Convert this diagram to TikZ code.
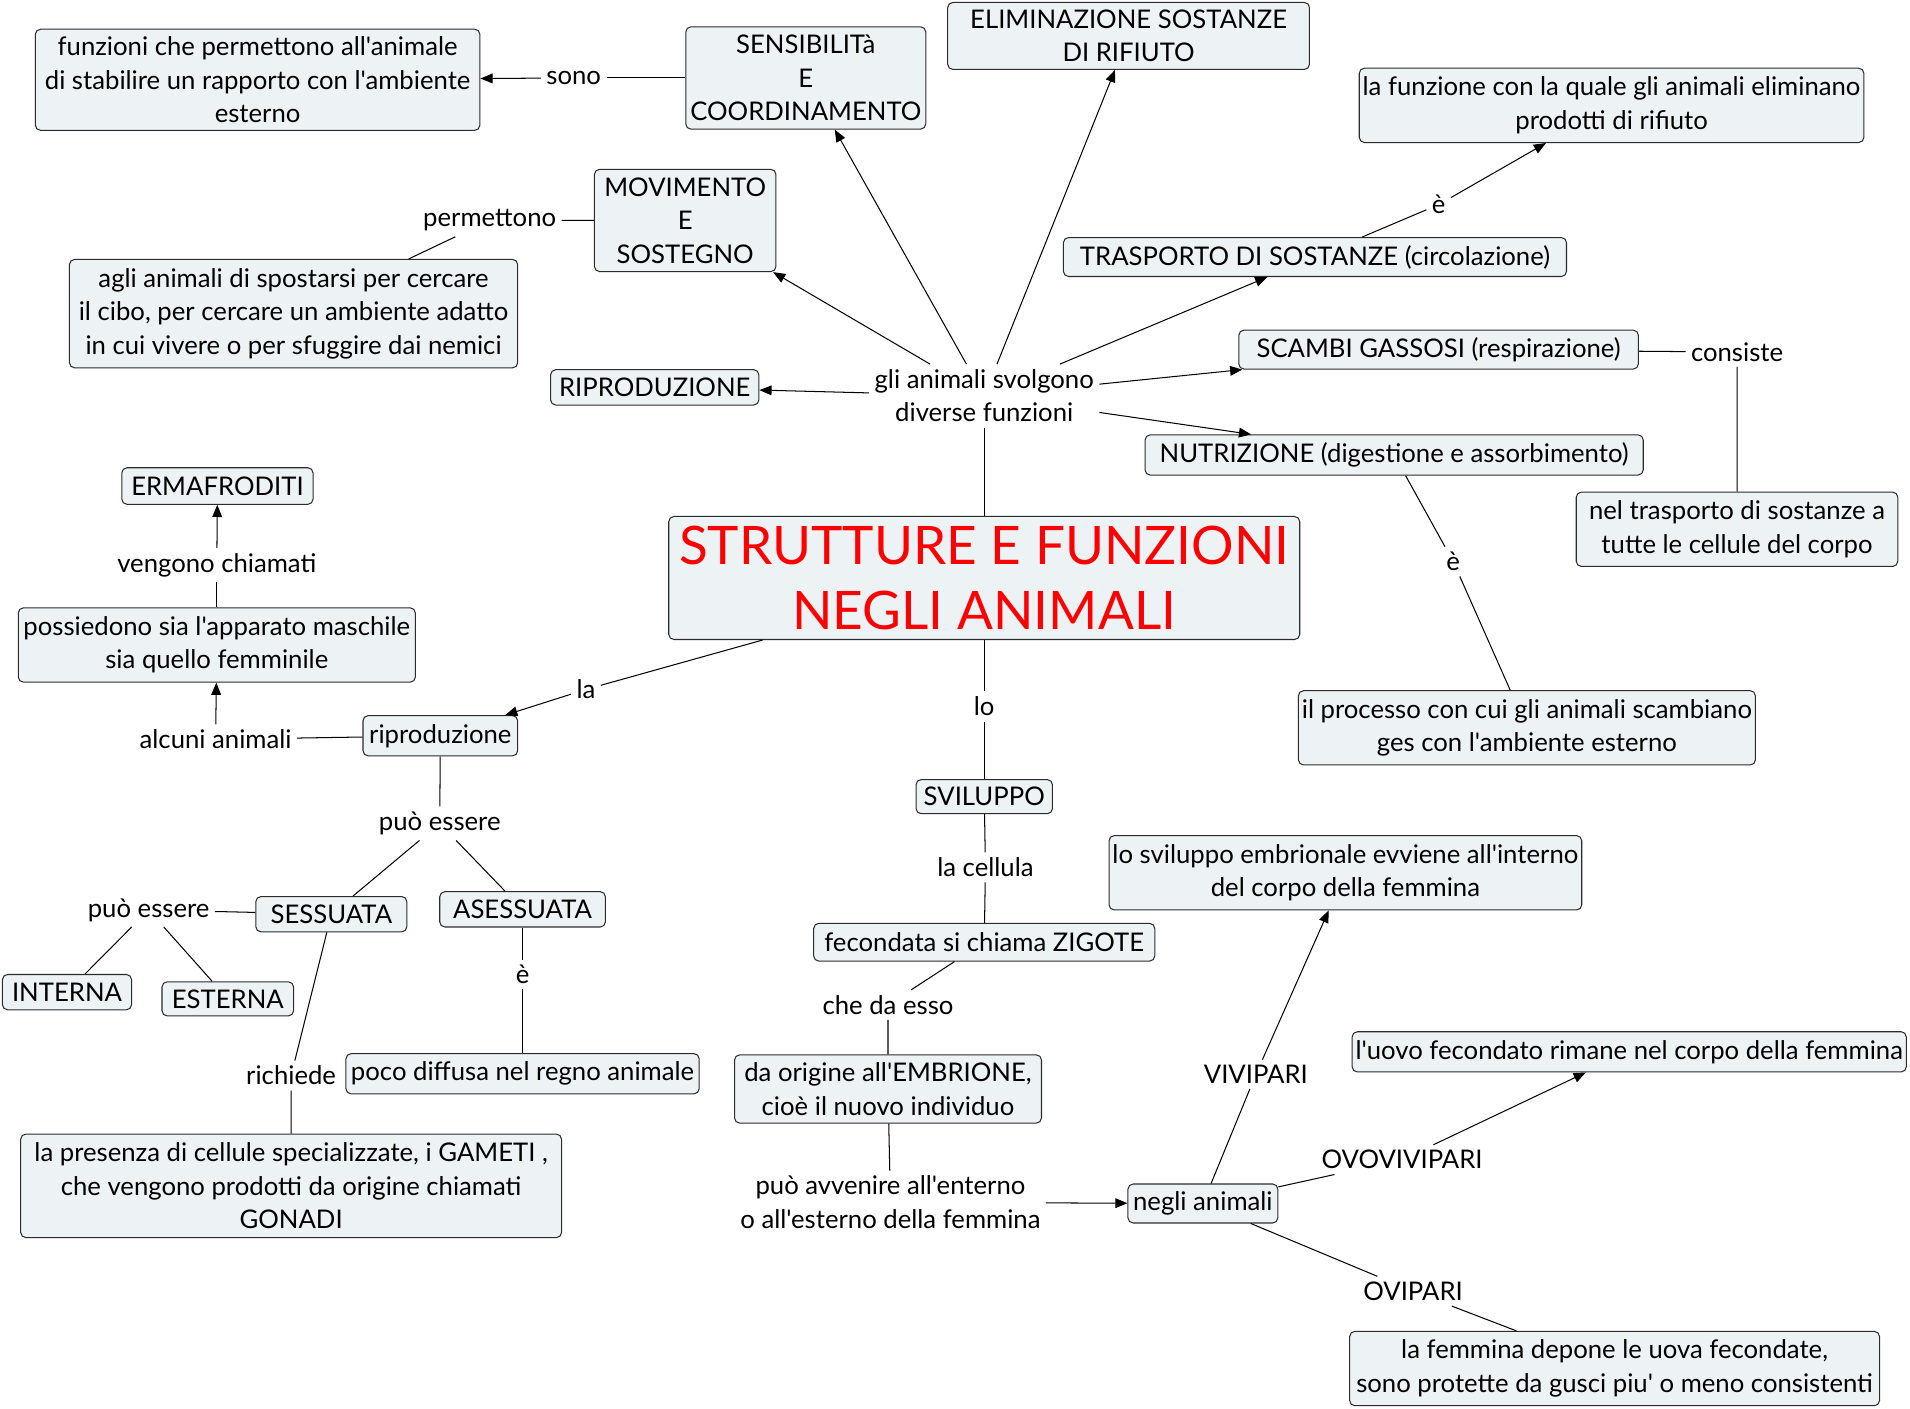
\documentclass[tikz,border=0pt]{standalone}
\usepackage{fontspec}
\usetikzlibrary{arrows.meta, positioning}
\newfontfamily\cmapfont{Lato}
\newcommand{\cmtext}{\cmapfont\fontsize{15}{19.5}\selectfont}
\newcommand{\cmtitle}{\cmapfont\fontsize{31}{38}\selectfont}
\definecolor{cfill}{HTML}{EDF3F5}
\definecolor{cline}{HTML}{2B2B2B}
\definecolor{titlered}{HTML}{FF0000}
\tikzset{
  concept/.style={draw=cline, fill=cfill, rounded corners=3pt, line width=0.6pt, align=center,
                  font=\cmtext, inner xsep=2pt, inner ysep=1pt},
  sz/.style 2 args={minimum width=#1*0.025cm, minimum height=#2*0.025cm},
  link/.style={fill=white, align=center, font=\cmtext, inner sep=3pt},
  con/.style={draw=black, line width=0.6pt},
  arr/.style={con, -{Triangle[length=2.5mm,width=2mm]}},
}

\begin{document}
\begin{tikzpicture}[x=0.025cm, y=-0.025cm]
\useasboundingbox (0,0) rectangle (1568,1156);

% ---------------- the centre ----------------
\node[concept, sz={518}{101}, font=\cmtitle, text=titlered] (title) at (808,474.5) {STRUTTURE E FUNZIONI\\NEGLI ANIMALI};
\node[link] (lsvolg) at (808,325) {gli animali svolgono\\diverse funzioni};

% ---------------- the functions ----------------
\node[concept, sz={365}{83}] (fz) at (211.5,65.5) {funzioni che permettono all'animale\\di stabilire un rapporto con l'ambiente\\esterno};
\node[concept, sz={197}{84}] (sens) at (661.5,64) {SENSIBILITà\\E\\COORDINAMENTO};
\node[concept, sz={297}{55}] (elim) at (926.5,29.5) {ELIMINAZIONE SOSTANZE\\DI RIFIUTO};
\node[concept, sz={414}{61}] (lafunz) at (1323,86.5) {la funzione con la quale gli animali eliminano\\prodotti di rifiuto};
\node[concept, sz={149}{84}] (mov) at (562.5,181) {MOVIMENTO\\E\\SOSTEGNO};
\node[concept, sz={368}{89}] (agli) at (241,257.5) {agli animali di spostarsi per cercare\\il cibo, per cercare un ambiente adatto\\in cui vivere o per sfuggire dai nemici};
\node[concept, sz={413}{32}] (trasp) at (1079.5,211) {TRASPORTO DI SOSTANZE (circolazione)};
\node[concept, sz={328}{32}] (scambi) at (1181,287) {SCAMBI GASSOSI (respirazione)};
\node[concept, sz={264}{61}] (neltr) at (1426,434.5) {nel trasporto di sostanze a\\tutte le cellule del corpo};
\node[concept, sz={171}{29}] (ripro) at (537.5,318) {RIPRODUZIONE};
\node[concept, sz={409}{33}] (nutri) at (1144.5,373.5) {NUTRIZIONE (digestione e assorbimento)};
\node[concept, sz={373}{61}] (processo) at (1253.5,597.5) {il processo con cui gli animali scambiano\\ges con l'ambiente esterno};

\node[link] (lsono) at (471,64) {sono};
\node[link] (lperm) at (402,181) {permettono};
\node[link] (le1) at (1181,168) {è};
\node[link] (lcons) at (1426,289) {consiste};
\node[link] (le2) at (1193,461) {è};

% ---------------- the reproduction ----------------
\node[concept, sz={157}{30}] (erma) at (178.5,399) {ERMAFRODITI};
\node[concept, sz={326}{61}] (poss) at (178,529.5) {possiedono sia l'apparato maschile\\sia quello femminile};
\node[concept, sz={127}{33}] (riprod) at (361.5,604) {riproduzione};
\node[concept, sz={124}{29}] (sess) at (272,750.5) {SESSUATA};
\node[concept, sz={136}{29}] (asess) at (429,746.5) {ASESSUATA};
\node[concept, sz={106}{29}] (interna) at (55,814.5) {INTERNA};
\node[concept, sz={108}{28}] (esterna) at (187,820) {ESTERNA};
\node[concept, sz={290}{33}] (poco) at (429,881.5) {poco diffusa nel regno animale};
\node[concept, sz={444}{85}] (presenza) at (239,973.5) {la presenza di cellule specializzate, i GAMETI ,\\che vengono prodotti da origine chiamati\\GONADI};

\node[link] (lvch) at (178,464) {vengono chiamati};
\node[link] (lalc) at (177,607) {alcuni animali};
\node[link] (lla) at (481,566) {la};
\node[link] (lpuo1) at (361,676) {può essere};
\node[link] (lpuo2) at (122,747) {può essere};
\node[link] (le3) at (429,800) {è};
\node[link] (lrich) at (239,883) {richiede};

% ---------------- the development ----------------
\node[concept, sz={112}{28}] (svil) at (808,654) {SVILUPPO};
\node[concept, sz={280}{31}] (fecond) at (808,773.5) {fecondata si chiama ZIGOTE};
\node[concept, sz={252}{56}] (origine) at (729,894) {da origine all'EMBRIONE,\\cioè il nuovo individuo};
\node[concept, sz={123}{32}] (negli) at (987.5,988) {negli animali};
\node[concept, sz={387}{61}] (lsvil) at (1104.5,716.5) {lo sviluppo embrionale evviene all'interno\\del corpo della femmina};
\node[concept, sz={451}{33}] (uovo) at (1337.5,863.5) {l'uovo fecondato rimane nel corpo della femmina};
\node[concept, sz={435}{61}] (femm) at (1325.5,1123.5) {la femmina depone le uova fecondate,\\sono protette da gusci piu' o meno consistenti};

\node[link] (llo) at (808,580) {lo};
\node[link] (lcell) at (809,712) {la cellula};
\node[link] (lche) at (729,825) {che da esso};
\node[link] (lavv) at (731,987) {può avvenire all'enterno\\o all'esterno della femmina};
\node[link] (lviv) at (1031,882) {VIVIPARI};
\node[link] (lovov) at (1151,952) {OVOVIVIPARI};
\node[link] (lovi) at (1160,1060) {OVIPARI};

% ---------------- connectors ----------------
\draw[con] (title) -- (lsvolg);
\foreach \f in {ripro,mov,sens,elim,trasp,scambi,nutri} {
  \draw[arr] (lsvolg) -- (\f);
}
\draw[con] (sens) -- (lsono);
\draw[arr] (lsono) -- (fz);
\draw[con] (mov) -- (lperm) -- (agli);
\draw[con] (trasp) -- (le1);
\draw[arr] (le1) -- (lafunz);
\draw[con] (scambi) -- (lcons) -- (neltr);
\draw[con] (nutri) -- (le2) -- (processo);

\draw[con] (title) -- (lla);
\draw[arr] (lla) -- (riprod);
\draw[con] (riprod) -- (lalc);
\draw[arr] (lalc) -- (poss);
\draw[con] (poss) -- (lvch);
\draw[arr] (lvch) -- (erma);
\draw[con] (riprod) -- (lpuo1);
\draw[con] (lpuo1) -- (sess);
\draw[con] (lpuo1) -- (asess);
\draw[con] (sess) -- (lpuo2);
\draw[con] (lpuo2) -- (interna);
\draw[con] (lpuo2) -- (esterna);
\draw[con] (asess) -- (le3) -- (poco);
\draw[con] (sess) -- (lrich) -- (presenza);

\draw[con] (title) -- (llo) -- (svil);
\draw[con] (svil) -- (lcell) -- (fecond);
\draw[con] (fecond) -- (lche) -- (origine);
\draw[con] (origine) -- (lavv);
\draw[arr] (lavv) -- (negli);
\draw[con] (negli) -- (lviv);
\draw[arr] (lviv) -- (lsvil);
\draw[con] (negli) -- (lovov);
\draw[arr] (lovov) -- (uovo);
\draw[con] (negli) -- (lovi) -- (femm);
\end{tikzpicture}
\end{document}
